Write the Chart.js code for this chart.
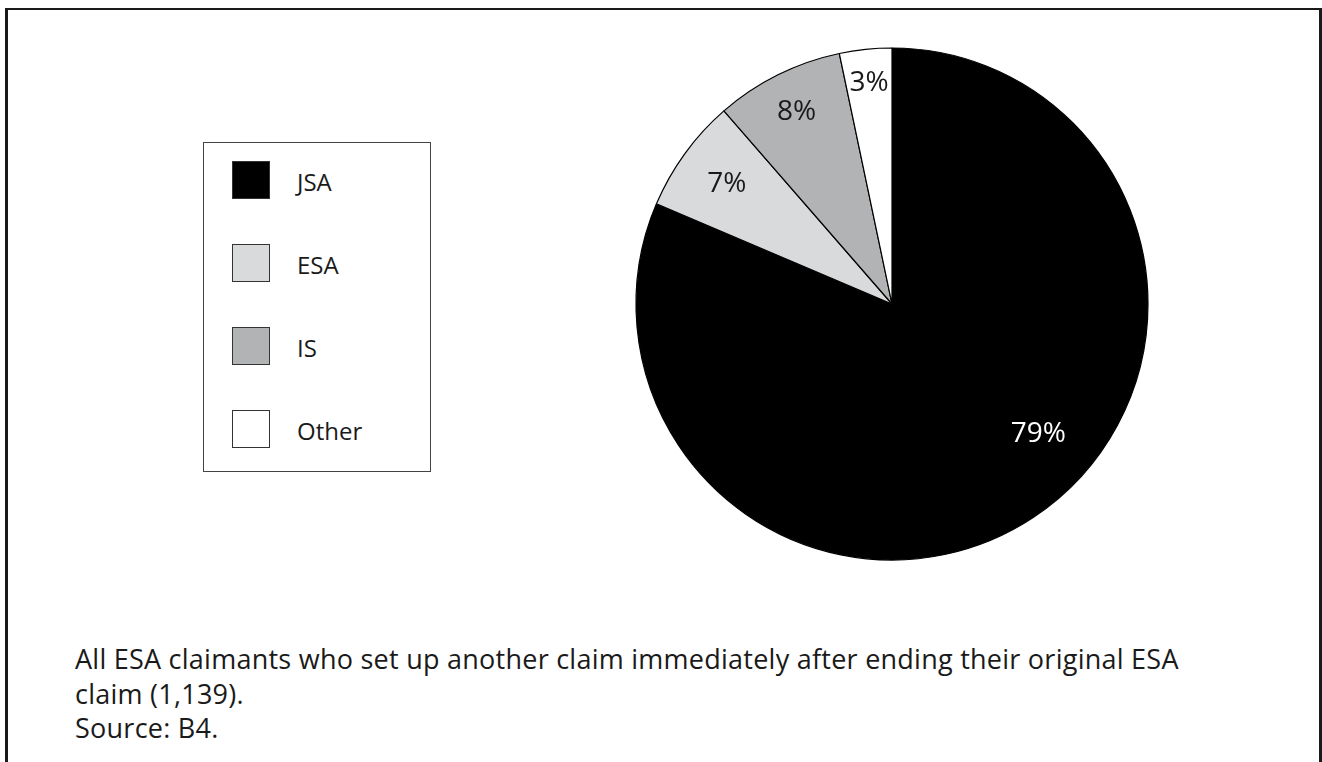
<!DOCTYPE html>
<html>
<head>
<meta charset="utf-8">
<script src="https://cdn.jsdelivr.net/npm/chart.js@4/dist/chart.umd.min.js"></script>
<style>
    body { margin: 0; background: #fff; font-family: "Open Sans", sans-serif; color: #1a1a1a; }
    #wrap { position: relative; width: 1322px; height: 762px; overflow: hidden; background: #fff; }
    #frame { position: absolute; left: 5px; top: 8px; width: 1311px; height: 900px;
             border: 3px solid #1a1a1a; border-top-width: 2px; border-bottom: none; }
    #legend { position: absolute; left: 203px; top: 142px; width: 226px; height: 310px;
              border: 1px solid #444; padding-top: 18px; box-sizing: content-box; }
    #legend .item { height: 83px; display: flex; align-items: flex-start; }
    #legend .swatch { width: 36px; height: 36px; border: 1px solid #333; margin-left: 28px; }
    #legend .txt { font-size: 24px; margin-left: 27px; line-height: 42px; }
    #chartBox { position: absolute; left: 622px; top: 34px; width: 540px; height: 540px; }
    #caption { position: absolute; left: 75px; top: 642px; font-size: 27px; line-height: 34.5px;
               letter-spacing: 0.25px; white-space: nowrap; }
</style>
</head>
<body>
<div id="wrap">
    <div id="frame"></div>
    <div id="legend"></div>
    <div id="chartBox"><canvas id="myChart" width="540" height="540"></canvas></div>
    <div id="caption">
        All ESA claimants who set up another claim immediately after ending their original ESA<br>
        claim (1,139).<br>
        Source: B4.
    </div>
</div>
<script>
// Dados do grafico
var categorias = ['JSA', 'ESA', 'IS', 'Other'];
var valores = [81.4, 7.2, 8.1, 3.3];
var rotulos = ['79%', '7%', '8%', '3%'];
var cores = ['#000000', '#d9dadc', '#b2b3b5', '#ffffff'];

// Legenda em html
var html = '';
for (var i = 0; i < categorias.length; i++) {
    html += '<div class="item">';
    html += '<div class="swatch" style="background:' + cores[i] + '"></div>';
    html += '<div class="txt">' + categorias[i] + '</div>';
    html += '</div>';
}
document.getElementById('legend').innerHTML = html;

// Rotulos dentro das fatias
var rotuloPlugin = {
    id: 'rotulos',
    afterDatasetsDraw: function (chart, args, opts) {
        var ctx = chart.ctx;
        var meta = chart.getDatasetMeta(0);
        ctx.save();
        ctx.font = '28px "Open Sans"';
        ctx.textAlign = 'center';
        ctx.textBaseline = 'middle';
        meta.data.forEach(function (arc, i) {
            var p = arc.getProps(['x', 'y', 'startAngle', 'endAngle', 'outerRadius'], true);
            var ang = (p.startAngle + p.endAngle) / 2 + (opts.shift[i] || 0) * Math.PI / 180;
            var r = p.outerRadius * opts.raio[i];
            ctx.fillStyle = i === 0 ? '#ffffff' : '#1a1a1a';
            ctx.fillText(rotulos[i], p.x + Math.cos(ang) * r, p.y + Math.sin(ang) * r);
        });
        ctx.restore();
    }
};

var ctx = document.getElementById('myChart').getContext('2d');
var myChart = new Chart(ctx, {
    type: 'pie',
    data: {
        labels: categorias,
        datasets: [{
            data: valores,
            backgroundColor: cores,
            borderColor: '#000000',
            borderWidth: 1.2,
            radius: 256
        }]
    },
    options: {
        responsive: false,
        animation: false,
        layout: { padding: 0 },
        plugins: {
            legend: { display: false },
            tooltip: { enabled: false },
            rotulos: { raio: [0.766, 0.797, 0.837, 0.868], shift: [-14.8, 0, 0, 0] }
        }
    },
    plugins: [rotuloPlugin]
});
</script>
</body>
</html>
